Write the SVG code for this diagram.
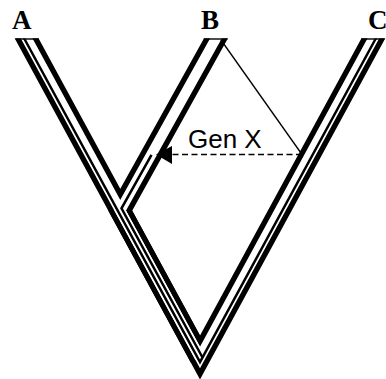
<svg xmlns="http://www.w3.org/2000/svg" width="386" height="379" viewBox="0 0 386 379">
  <style>
    .casing { fill: none; stroke: #000; stroke-width: 21; stroke-linejoin: miter; stroke-miterlimit: 10; }
    .hollow { fill: none; stroke: #fff; stroke-width: 10.2; stroke-linejoin: miter; stroke-miterlimit: 10; }
    .cap { stroke: #000; stroke-width: 1.4; }
    .gene { fill: none; stroke: #000; stroke-width: 2.5; stroke-linejoin: miter; stroke-miterlimit: 10; }
    .thin { fill: none; stroke: #000; stroke-width: 1.3; }
    .dash { fill: none; stroke: #000; stroke-width: 1.3; stroke-dasharray: 6 3.5; }
    .label { font-family: "Liberation Serif", "Times New Roman", serif; font-weight: bold; font-size: 27px; fill: #000; }
    .event { font-family: "Liberation Sans", Arial, sans-serif; font-size: 26px; fill: #000; }
  </style>
  <rect width="386" height="379" fill="#fff"/>
  <g id="species-tree">
    <path class="casing" d="M22.1,30 L200,357.5 L377.9,30"/>
    <path class="casing" d="M220.6,30 L120.2,210.6 L200,357.5"/>
    <path class="hollow" d="M22.1,30 L200,357.5 L377.9,30"/>
    <path class="hollow" d="M220.6,30 L120.2,210.6 L200,357.5"/>
  </g>
  <g id="gene-tree">
    <path class="gene" d="M19.6,30 L200,362.1 L380.4,30"/>
    <path class="gene" d="M151.5,154.8 L121.5,208.3 L202.5,357.5"/>
  </g>
  <rect x="0" y="0" width="386" height="38.4" fill="#fff"/>
  <g id="tube-caps">
    <line class="cap" x1="15.5" y1="39" x2="39" y2="39"/>
    <line class="cap" x1="203.7" y1="39" x2="227.5" y2="39"/>
    <line class="cap" x1="361" y1="39" x2="384.5" y2="39"/>
  </g>
  <g id="connectors">
    <line class="thin" x1="221" y1="40" x2="302" y2="154.5"/>
    <line class="dash" x1="302" y1="154.5" x2="172" y2="154.5"/>
    <polygon points="156,154.5 172,146 172,164" fill="#000"/>
  </g>
  <g id="node-A"><text class="label" x="12" y="29">A</text></g>
  <g id="node-B"><text class="label" x="201" y="29">B</text></g>
  <g id="node-C"><text class="label" x="368" y="29">C</text></g>
  <g id="event-genx"><text class="event" x="188" y="148">Gen X</text></g>
</svg>
